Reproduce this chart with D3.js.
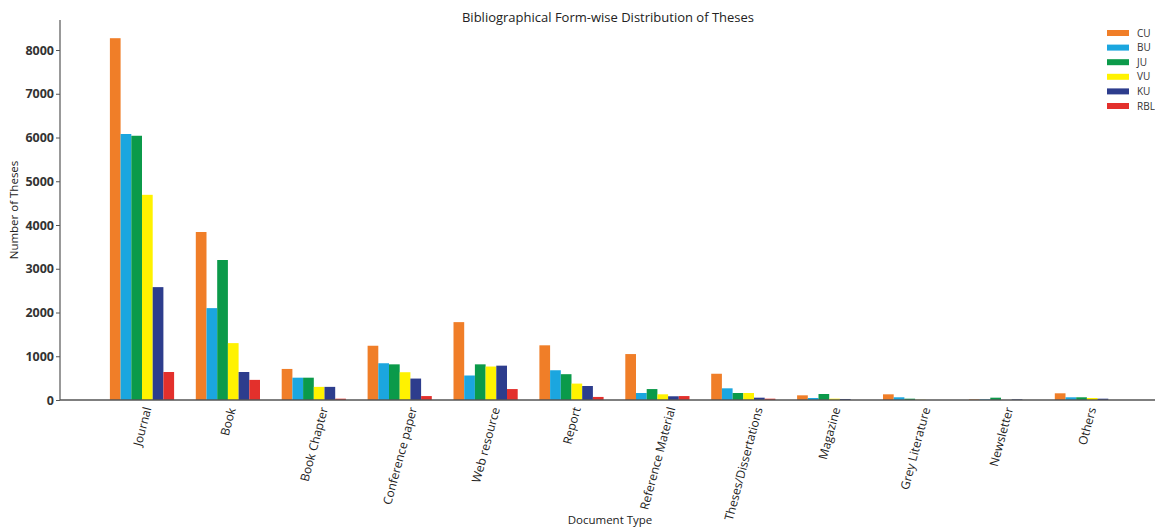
<!DOCTYPE html>
<html><head><meta charset="utf-8">
<script src="https://cdn.jsdelivr.net/npm/d3@7"></script>
<style>body{margin:0;background:#fff}svg{display:block}text{font-family:"Open Sans",sans-serif}</style>
</head><body><svg id="c" width="1155" height="529"></svg>
<script>
const categories = ["Journal","Book","Book Chapter","Conference paper","Web resource","Report","Reference Material","Theses/Dissertations","Magazine","Grey Literature","Newsletter","Others"];
const seriesNames = ["CU","BU","JU","VU","KU","RBL"];
const CU  = [8270,3840,710,1240,1780,1250,1050,600,107,130,15,153];
const BU  = [6080,2100,510,840,560,680,160,267,46,62,15,62];
const JU  = [6040,3200,510,815,815,590,250,160,137,30,53,62];
const VU  = [4690,1300,300,635,765,375,130,160,30,5,0,46];
const KU  = [2580,640,300,490,785,320,85,53,23,0,15,30];
const RBL = [640,460,30,90,250,70,90,30,0,0,0,0];
const yTicks = [0,1000,2000,3000,4000,5000,6000,7000,8000];
const colors = ["#f07e28","#1ba6df","#0b9a4a","#fff200","#2d3d8d","#e3302c"];
const seriesValues = [CU,BU,JU,VU,KU,RBL];

const svg = d3.select("#c");
const x0 = 60, yBase = 400, yTop = 20;
const y = d3.scaleLinear().domain([0,8686]).range([yBase,yTop]);
const step = 85.9, firstCenter = 142, barW = 10.7;
const xc = d3.scaleLinear().domain([0,11]).range([firstCenter, firstCenter+11*step]);

// bars
seriesValues.forEach((vals,s)=>{
  svg.append("g").selectAll("rect").data(vals).join("rect")
    .attr("x",(d,i)=>xc(i)-3*barW + s*barW)
    .attr("y",d=>y(d))
    .attr("width",barW)
    .attr("height",d=>yBase-y(d))
    .attr("fill",colors[s]);
});

// y axis
const ya = svg.append("g").attr("transform",`translate(${x0},0)`)
  .call(d3.axisLeft(y).tickValues(yTicks).tickSize(4).tickSizeOuter(0).tickFormat(d3.format("d")));
ya.select(".domain").attr("stroke","#555").attr("stroke-width",1.2).attr("d",`M0,${yTop}V${yBase}`);
ya.selectAll(".tick line").attr("stroke","#555");
ya.selectAll(".tick text").attr("font-size",12.5).attr("font-weight","bold").attr("fill","#333")
  .attr("font-family","'DejaVu Sans',sans-serif").attr("x",-6);

// x axis line
svg.append("line").attr("x1",x0).attr("x2",1155).attr("y1",yBase).attr("y2",yBase)
  .attr("stroke","#555").attr("stroke-width",1.5);

// x labels: rotated 75deg, bounding box centred under the tick (matplotlib style)
const ang = -75*Math.PI/180;
const lbl = svg.append("g").selectAll("g").data(categories).join("g");
lbl.append("text").attr("text-anchor","end").attr("dy","0.35em")
  .attr("font-size",12).attr("fill","#222")
  .attr("transform","rotate(-75)").text(d=>d);
lbl.each(function(d,i){
  const t = d3.select(this).select("text").node();
  const b = t.getBBox();
  const corners = [[b.x,b.y],[b.x+b.width,b.y],[b.x,b.y+b.height],[b.x+b.width,b.y+b.height]]
    .map(([px,py])=>[px*Math.cos(ang)-py*Math.sin(ang), px*Math.sin(ang)+py*Math.cos(ang)]);
  const minx=d3.min(corners,c=>c[0]), maxx=d3.max(corners,c=>c[0]), miny=d3.min(corners,c=>c[1]);
  d3.select(this).attr("transform",`translate(${xc(i)-(minx+maxx)/2},${yBase+5-miny})`);
});

// title & axis titles
svg.append("text").attr("x",608).attr("y",22).attr("text-anchor","middle")
  .attr("font-size",13).attr("fill","#222").text("Bibliographical Form-wise Distribution of Theses");
svg.append("text").attr("transform","translate(18,210) rotate(-90)").attr("text-anchor","middle")
  .attr("font-size",11.5).attr("fill","#222").text("Number of Theses");
svg.append("text").attr("x",610).attr("y",524).attr("text-anchor","middle")
  .attr("font-size",11.5).attr("fill","#222").text("Document Type");

// legend
const lg = svg.append("g").selectAll("g").data(seriesNames).join("g")
  .attr("transform",(d,i)=>`translate(1107,${33+i*14.6})`);
lg.append("rect").attr("x",0).attr("y",-3).attr("width",22).attr("height",6).attr("fill",(d,i)=>colors[i]);
lg.append("text").attr("x",30).attr("dy","0.35em").attr("font-size",10).attr("fill","#333").text(d=>d);
</script></body></html>
